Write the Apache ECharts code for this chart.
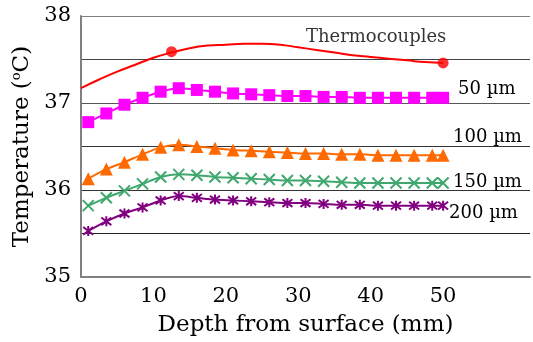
<!DOCTYPE html>
<html>
<head>
<meta charset="utf-8">
<script src="https://cdn.jsdelivr.net/npm/echarts@6/dist/echarts.min.js"></script>
<style>
  html, body { margin: 0; padding: 0; background: #fff; }
  #chart { width: 533px; height: 342px; }
</style>
</head>
<body>
<div id="chart"></div>
<script>
// depth positions of the simulated points (mm)
var depthX = [1, 3.5, 6, 8.5, 11, 13.5, 16, 18.5, 21, 23.5, 26, 28.5, 31, 33.5, 36, 38.5, 41, 43.5, 46, 48.5, 50]

var temp50 = [36.78, 36.88, 36.98, 37.06, 37.13, 37.17, 37.15, 37.13, 37.11, 37.10, 37.09, 37.08, 37.08, 37.07, 37.07, 37.06, 37.06, 37.06, 37.06, 37.06, 37.06]
var temp100 = [36.13, 36.24, 36.32, 36.41, 36.49, 36.52, 36.50, 36.48, 36.46, 36.45, 36.44, 36.43, 36.42, 36.42, 36.41, 36.41, 36.40, 36.40, 36.40, 36.40, 36.40]
var temp150 = [35.82, 35.91, 35.99, 36.07, 36.15, 36.18, 36.17, 36.15, 36.14, 36.13, 36.12, 36.11, 36.11, 36.10, 36.09, 36.08, 36.08, 36.08, 36.08, 36.08, 36.08]
var temp200 = [35.53, 35.64, 35.73, 35.80, 35.88, 35.93, 35.91, 35.89, 35.88, 35.87, 35.86, 35.85, 35.85, 35.84, 35.83, 35.83, 35.82, 35.82, 35.82, 35.82, 35.82]

// thermocouple fit curve
var fitX = [0, 2.5, 5, 7.5, 10, 12.5, 15, 17.5, 20, 22.5, 25, 27.5, 30, 32.5, 35, 37.5, 40, 42.5, 45, 47.5, 50]
var fitY = [37.17, 37.27, 37.36, 37.44, 37.52, 37.58, 37.63, 37.66, 37.67, 37.68, 37.68, 37.67, 37.64, 37.61, 37.58, 37.55, 37.53, 37.51, 37.49, 37.47, 37.46]

// thermocouple measurements
var tcX = [12.5, 50]
var tcY = [37.59, 37.46]

var seriesNames = ['50 µm', '100 µm', '150 µm', '200 µm']

function pairs (xs, ys) {
  return xs.map(function (x, i) { return [x, ys[i]] })
}

var serif = 'DejaVu Serif'
var crossPath = 'path://M0,0L10,10M10,0L0,10'
var starPath = 'path://M0,0L10,10M10,0L0,10M5,-1.5L5,11.5'

function simLine (name, data, color, symbol, size, offset, stroked) {
  return {
    name: name,
    type: 'line',
    smooth: 0.3,
    data: data,
    symbol: symbol,
    symbolSize: size,
    lineStyle: { color: color, width: 2 },
    itemStyle: stroked
      ? { color: color, borderColor: color, borderWidth: 2 }
      : { color: color },
    endLabel: {
      show: true,
      formatter: name,
      distance: 0,
      offset: offset,
      color: '#000',
      fontFamily: serif,
      fontSize: 18
    }
  }
}

var myChart = echarts.init(document.getElementById('chart'))
myChart.setOption({
  animation: false,
  grid: { left: 81, right: 0, top: 16, bottom: 65 },
  xAxis: {
    type: 'value',
    min: 0,
    max: 62,
    interval: 10,
    name: 'Depth from surface (mm)',
    nameLocation: 'middle',
    nameGap: 37,
    nameTextStyle: { fontFamily: serif, fontSize: 23, color: '#000' },
    axisLine: { lineStyle: { color: '#808080', width: 2 } },
    axisTick: { show: false },
    axisLabel: {
      margin: 9,
      fontFamily: serif,
      fontSize: 21,
      color: '#000',
      formatter: function (v) { return v <= 50 ? v : '' }
    },
    splitLine: { show: false }
  },
  yAxis: {
    type: 'value',
    min: 35,
    max: 38,
    interval: 0.5,
    name: '{t|Temperature (}{s|o}{t|C)}',
    nameLocation: 'middle',
    nameGap: 46,
    nameTextStyle: {
      rich: {
        t: { fontFamily: serif, fontSize: 23, color: '#000' },
        s: { fontFamily: serif, fontSize: 13, color: '#000', verticalAlign: 'top', padding: [0, 0, 10, 0] }
      }
    },
    axisLine: { show: true, lineStyle: { color: '#808080', width: 2 } },
    axisTick: { show: false },
    axisLabel: {
      margin: 10,
      fontFamily: serif,
      fontSize: 21,
      color: '#000',
      formatter: function (v) { return Number.isInteger(v) ? v : '' }
    },
    splitLine: {
      show: true,
      lineStyle: { color: ['#808080', '#222', '#333', '#333', '#555', '#444', '#808080'], width: 1 }
    }
  },
  series: [
    {
      name: 'fit',
      type: 'line',
      smooth: true,
      showSymbol: false,
      data: pairs(fitX, fitY),
      lineStyle: { color: '#ff0000', width: 2 }
    },
    {
      name: 'Thermocouples',
      type: 'scatter',
      data: pairs(tcX, tcY),
      symbol: 'circle',
      symbolSize: 11,
      itemStyle: { color: '#ff0000' },
      label: {
        show: true,
        position: 'inside',
        offset: [-67, -26],
        color: '#000',
        fontFamily: serif,
        fontSize: 18,
        formatter: function (p) { return p.dataIndex === tcX.length - 1 ? 'Thermocouples' : '' }
      }
    },
    simLine(seriesNames[0], pairs(depthX, temp50), '#ff00ff', 'rect', 12, [15, -8], false),
    simLine(seriesNames[1], pairs(depthX, temp100), '#ff6a00', 'triangle', 13, [10, -18], false),
    simLine(seriesNames[2], pairs(depthX, temp150), '#3fa86e', crossPath, 11, [10, -1], true),
    simLine(seriesNames[3], pairs(depthX, temp200), '#800080', starPath, 10, [6, 8], true)
  ]
})
</script>
</body>
</html>
